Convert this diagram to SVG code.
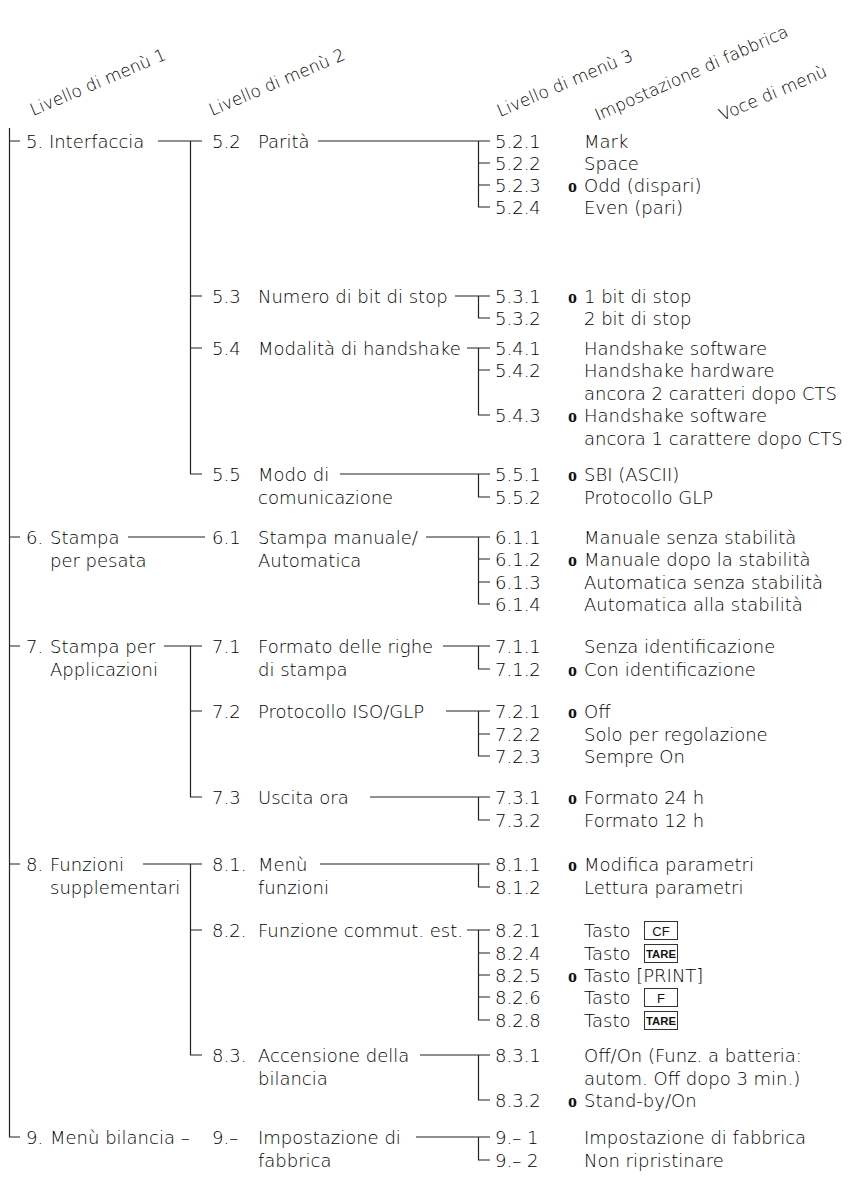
<svg xmlns="http://www.w3.org/2000/svg" width="867" height="1180" viewBox="0 0 867 1180">
<style>
text{font-family:'DejaVu Sans','Liberation Sans',sans-serif;font-weight:200;font-size:18px;fill:#000}
.h{font-size:17px}
.o{font-family:'Liberation Serif',serif;font-weight:bold;font-size:18px;fill:#111}
.k{font-family:'Liberation Sans',sans-serif;font-weight:normal;font-size:13px;text-anchor:middle;fill:#111}
.kt{font-family:'Liberation Sans',sans-serif;font-weight:bold;font-size:11.5px;text-anchor:middle;fill:#111}
.kb{fill:none;stroke:#333;stroke-width:1}
.ln{fill:none;stroke:#222;stroke-width:1.2}
</style>
<rect width="867" height="1180" fill="#fff"/>
<g id="headers">
<text class="h" x="33" y="116" transform="rotate(-23 33 116)">Livello di menù 1</text>
<text class="h" x="212" y="116" transform="rotate(-23 212 116)">Livello di menù 2</text>
<text class="h" x="500" y="117" transform="rotate(-23 500 117)">Livello di menù 3</text>
<text class="h" x="598" y="121" transform="rotate(-24 598 121)">Impostazione di fabbrica</text>
<text class="h" x="722" y="121" transform="rotate(-23 722 121)">Voce di menù</text>
</g>
<g id="connectors" class="ln">
<path d="M9.5 128V1137H20M9.5 141H20M9.5 537H20M9.5 646H20M9.5 864H20"/>
<path d="M158 141H202M190.5 141V474H202M190.5 296H202M190.5 348H202"/>
<path d="M128 537H205"/>
<path d="M164 646H202M190.5 646V797H202M190.5 711H202"/>
<path d="M143 864H202M190.5 864V1055H202M190.5 930H202"/>
<path d="M318 141H490M478.5 141V207H490M478.5 163H490M478.5 185H490"/>
<path d="M455 296H490M478.5 296V318H490"/>
<path d="M467 348H490M478.5 348V415H490M478.5 370H490"/>
<path d="M340 474H490M478.5 474V497H490"/>
<path d="M426 537H490M478.5 537V604H490M478.5 559H490M478.5 582H490"/>
<path d="M443 646H490M478.5 646V669H490"/>
<path d="M446 711H490M478.5 711V756H490M478.5 734H490"/>
<path d="M370 797H490M478.5 797V820H490"/>
<path d="M320 864H490M478.5 864V887H490"/>
<path d="M467 930H490M478.5 930V1020H490M478.5 953H490M478.5 975H490M478.5 997H490"/>
<path d="M420 1055H490M478.5 1055V1100H490"/>
<path d="M416 1137H490M478.5 1137V1160H490"/>
</g>
<g id="n5"><text x="26" y="147.5">5. Interfaccia</text></g>
<g id="n6"><text x="26" y="543.5">6.</text><text x="50" y="543.5">Stampa</text><text x="50" y="566.5">per pesata</text></g>
<g id="n7"><text x="26" y="652.5">7.</text><text x="50" y="652.5">Stampa per</text><text x="50" y="675.5">Applicazioni</text></g>
<g id="n8"><text x="26" y="870.5">8.</text><text x="50" y="870.5">Funzioni</text><text x="50" y="893.5">supplementari</text></g>
<g id="n9"><text x="26" y="1143.5">9.</text><text x="50" y="1143.5">Menù bilancia –</text></g>
<g id="n5-2"><text x="212" y="147.5">5.2</text><text x="258" y="147.5">Parità</text></g>
<g id="n5-3"><text x="212" y="302.5">5.3</text><text x="258" y="302.5">Numero di bit di stop</text></g>
<g id="n5-4"><text x="212" y="354.5">5.4</text><text x="258" y="354.5">Modalità di handshake</text></g>
<g id="n5-5"><text x="212" y="480.5">5.5</text><text x="258" y="480.5">Modo di</text><text x="258" y="503.5">comunicazione</text></g>
<g id="n6-1"><text x="212" y="543.5">6.1</text><text x="258" y="543.5">Stampa manuale/</text><text x="258" y="566.5">Automatica</text></g>
<g id="n7-1"><text x="212" y="652.5">7.1</text><text x="258" y="652.5">Formato delle righe</text><text x="258" y="675.5">di stampa</text></g>
<g id="n7-2"><text x="212" y="717.5">7.2</text><text x="258" y="717.5">Protocollo ISO/GLP</text></g>
<g id="n7-3"><text x="212" y="803.5">7.3</text><text x="258" y="803.5">Uscita ora</text></g>
<g id="n8-1"><text x="212" y="870.5">8.1.</text><text x="258" y="870.5">Menù</text><text x="258" y="893.5">funzioni</text></g>
<g id="n8-2"><text x="212" y="936.5">8.2.</text><text x="258" y="936.5">Funzione commut. est.</text></g>
<g id="n8-3"><text x="212" y="1061.5">8.3.</text><text x="258" y="1061.5">Accensione della</text><text x="258" y="1084.5">bilancia</text></g>
<g id="n9-0"><text x="212" y="1143.5">9.–</text><text x="258" y="1143.5">Impostazione di</text><text x="258" y="1166.5">fabbrica</text></g>
<g id="n5-2-1"><text x="495" y="147.5">5.2.1</text><text x="584" y="147.5">Mark</text></g>
<g id="n5-2-2"><text x="495" y="169.5">5.2.2</text><text x="584" y="169.5">Space</text></g>
<g id="n5-2-3"><text x="495" y="191.5">5.2.3</text><text class="o" x="568" y="191.5">o</text><text x="584" y="191.5">Odd (dispari)</text></g>
<g id="n5-2-4"><text x="495" y="213.5">5.2.4</text><text x="584" y="213.5">Even (pari)</text></g>
<g id="n5-3-1"><text x="495" y="302.5">5.3.1</text><text class="o" x="568" y="302.5">o</text><text x="584" y="302.5">1 bit di stop</text></g>
<g id="n5-3-2"><text x="495" y="324.5">5.3.2</text><text x="584" y="324.5">2 bit di stop</text></g>
<g id="n5-4-1"><text x="495" y="354.5">5.4.1</text><text x="584" y="354.5">Handshake software</text></g>
<g id="n5-4-2"><text x="495" y="376.5">5.4.2</text><text x="584" y="376.5">Handshake hardware</text><text x="584" y="399.5">ancora 2 caratteri dopo CTS</text></g>
<g id="n5-4-3"><text x="495" y="421.5">5.4.3</text><text class="o" x="568" y="421.5">o</text><text x="584" y="421.5">Handshake software</text><text x="584" y="444.5">ancora 1 carattere dopo CTS</text></g>
<g id="n5-5-1"><text x="495" y="480.5">5.5.1</text><text class="o" x="568" y="480.5">o</text><text x="584" y="480.5">SBI (ASCII)</text></g>
<g id="n5-5-2"><text x="495" y="503.5">5.5.2</text><text x="584" y="503.5">Protocollo GLP</text></g>
<g id="n6-1-1"><text x="495" y="543.5">6.1.1</text><text x="584" y="543.5">Manuale senza stabilità</text></g>
<g id="n6-1-2"><text x="495" y="565.5">6.1.2</text><text class="o" x="568" y="565.5">o</text><text x="584" y="565.5">Manuale dopo la stabilità</text></g>
<g id="n6-1-3"><text x="495" y="588.5">6.1.3</text><text x="584" y="588.5">Automatica senza stabilità</text></g>
<g id="n6-1-4"><text x="495" y="610.5">6.1.4</text><text x="584" y="610.5">Automatica alla stabilità</text></g>
<g id="n7-1-1"><text x="495" y="652.5">7.1.1</text><text x="584" y="652.5">Senza identificazione</text></g>
<g id="n7-1-2"><text x="495" y="675.5">7.1.2</text><text class="o" x="568" y="675.5">o</text><text x="584" y="675.5">Con identificazione</text></g>
<g id="n7-2-1"><text x="495" y="717.5">7.2.1</text><text class="o" x="568" y="717.5">o</text><text x="584" y="717.5">Off</text></g>
<g id="n7-2-2"><text x="495" y="740.5">7.2.2</text><text x="584" y="740.5">Solo per regolazione</text></g>
<g id="n7-2-3"><text x="495" y="762.5">7.2.3</text><text x="584" y="762.5">Sempre On</text></g>
<g id="n7-3-1"><text x="495" y="803.5">7.3.1</text><text class="o" x="568" y="803.5">o</text><text x="584" y="803.5">Formato 24 h</text></g>
<g id="n7-3-2"><text x="495" y="826.5">7.3.2</text><text x="584" y="826.5">Formato 12 h</text></g>
<g id="n8-1-1"><text x="495" y="870.5">8.1.1</text><text class="o" x="568" y="870.5">o</text><text x="584" y="870.5">Modifica parametri</text></g>
<g id="n8-1-2"><text x="495" y="893.5">8.1.2</text><text x="584" y="893.5">Lettura parametri</text></g>
<g id="n8-2-1"><text x="495" y="936.5">8.2.1</text><text x="584" y="936.5">Tasto</text><rect class="kb" x="644.5" y="921.5" width="33" height="18"/><text class="k" x="661" y="935.5">CF</text></g>
<g id="n8-2-4"><text x="495" y="959.5">8.2.4</text><text x="584" y="959.5">Tasto</text><rect class="kb" x="644.5" y="944.5" width="33" height="18"/><text class="kt" x="661" y="958" textLength="30" lengthAdjust="spacingAndGlyphs">TARE</text></g>
<g id="n8-2-5"><text x="495" y="981.5">8.2.5</text><text class="o" x="568" y="981.5">o</text><text x="584" y="981.5">Tasto [PRINT]</text></g>
<g id="n8-2-6"><text x="495" y="1003.5">8.2.6</text><text x="584" y="1003.5">Tasto</text><rect class="kb" x="644.5" y="988.5" width="33" height="18"/><text class="k" x="661" y="1002.5">F</text></g>
<g id="n8-2-8"><text x="495" y="1026.5">8.2.8</text><text x="584" y="1026.5">Tasto</text><rect class="kb" x="644.5" y="1011.5" width="33" height="18"/><text class="kt" x="661" y="1025" textLength="30" lengthAdjust="spacingAndGlyphs">TARE</text></g>
<g id="n8-3-1"><text x="495" y="1061.5">8.3.1</text><text x="584" y="1061.5">Off/On (Funz. a batteria:</text><text x="584" y="1084.5">autom. Off dopo 3 min.)</text></g>
<g id="n8-3-2"><text x="495" y="1106.5">8.3.2</text><text class="o" x="568" y="1106.5">o</text><text x="584" y="1106.5">Stand-by/On</text></g>
<g id="n9-1"><text x="495" y="1143.5">9.– 1</text><text x="584" y="1143.5">Impostazione di fabbrica</text></g>
<g id="n9-2"><text x="495" y="1166.5">9.– 2</text><text x="584" y="1166.5">Non ripristinare</text></g>
</svg>
